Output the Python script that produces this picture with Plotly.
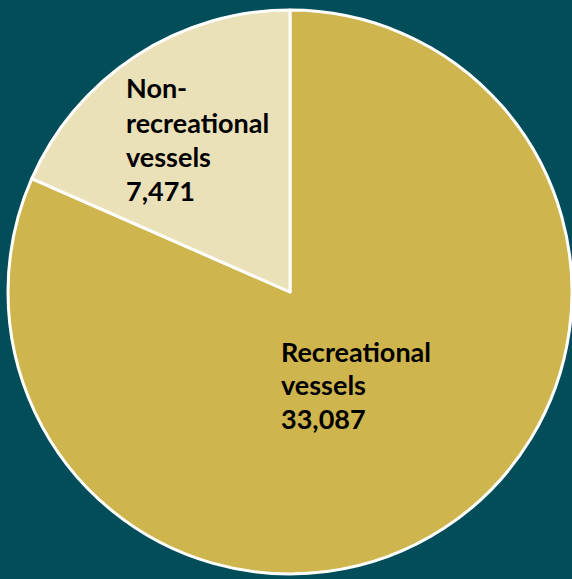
import plotly.graph_objects as go

labels = ["Recreational vessels", "Non-recreational vessels"]
values = [33087, 7471]
label_lines = [["Recreational", "vessels"], ["Non-", "recreational", "vessels"]]
colors = ["#cfb54d", "#ebe1b9"]
bg = "#014e5a"

W, H = 572, 579
fig = go.Figure(go.Pie(
    labels=labels, values=values, sort=False, direction="clockwise", rotation=0,
    marker=dict(colors=colors, line=dict(color="white", width=3)),
    textinfo="none", hoverinfo="label+value", showlegend=False,
    domain=dict(x=[8 / W, 1], y=[(H - 577) / H, (H - 7) / H]),
))

# label anchor positions (pixels: left x, first line centre y, line step)
anchors = [(279, 351, 33.5), (124, 88, 34)]
for lines, v, (px, py, step) in zip(label_lines, values, anchors):
    for i, line in enumerate(lines + [f"{v:,}"]):
        fig.add_annotation(
            x=px / W, y=1 - (py + i * step) / H, xref="paper", yref="paper",
            xanchor="left", yanchor="middle", align="left", showarrow=False,
            text=f"<b>{line}</b>",
            font=dict(family="Lato, Open Sans, sans-serif", size=27, color="black"),
        )

fig.update_layout(
    width=W, height=H, margin=dict(l=0, r=0, t=0, b=0),
    paper_bgcolor=bg, plot_bgcolor=bg,
)
fig.write_html("out.html")
